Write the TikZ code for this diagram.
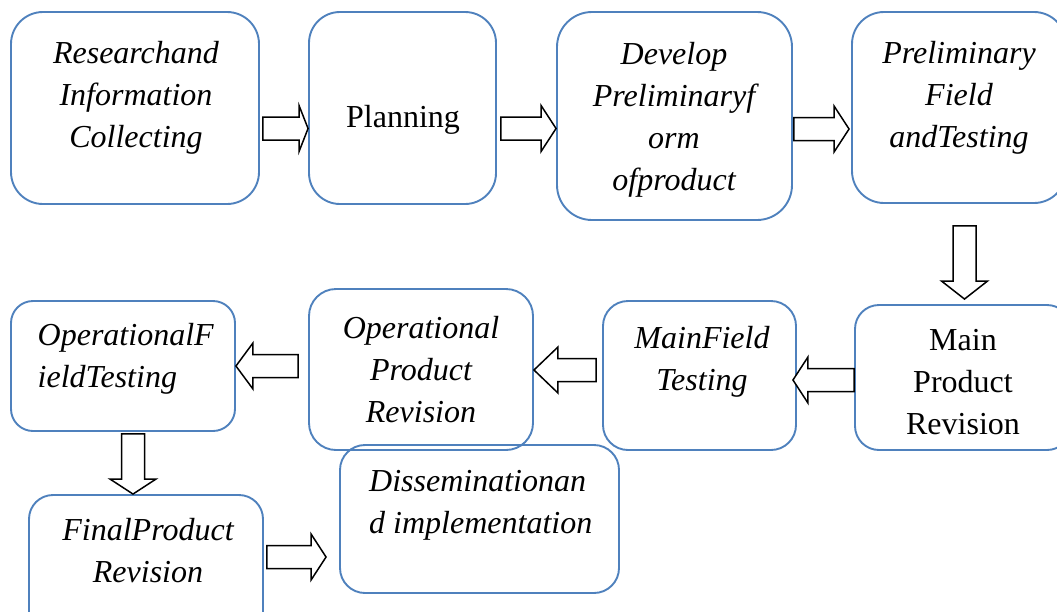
\documentclass[tikz,border=0pt]{standalone}
\usepackage{fontspec}
\setmainfont{Liberation Serif}
\usetikzlibrary{calc}

\definecolor{boxblue}{RGB}{79,129,189}

% hollow block arrow from #2 (tail) to #3 (tip), #1 = head length
\newcommand{\flowarrow}[3][15pt]{%
  \coordinate (head) at ($(#3)!#1!(#2)$);
  \draw[flow] ($(#2)!11.5pt!90:(#3)$) -- ($(head)!11.5pt!-90:(#2)$)
    -- ($(head)!23pt!-90:(#2)$) -- (#3) -- ($(head)!23pt!90:(#2)$)
    -- ($(head)!11.5pt!90:(#2)$) -- ($(#2)!11.5pt!-90:(#3)$) -- cycle;}

\begin{document}
\begin{tikzpicture}[x=1pt, y=1pt,
  stage/.style n args={3}{draw=boxblue, line width=1.9pt, rounded corners=#3pt,
    minimum width=#1pt, minimum height=#2pt, inner sep=0pt},
  steptext/.style={font=\fontsize{32}{42}\selectfont\itshape,
    align=center, inner sep=0pt, anchor=base},
  upright/.style={font=\fontsize{32}{42}\selectfont},
  flow/.style={draw=black, line width=1.5pt, fill=white, line join=miter}]
  \useasboundingbox (0,0) rectangle (1057,-611);

  % top row (texts sit on the baseline of their last line)
  \node[stage={248}{192}{32}] (b1) at (135,-108) {};
  \node[steptext] (t1) at (136,-147) {Researchand\\Information\\Collecting};
  \node[stage={187}{192}{31}] (b2) at (402.5,-108) {};
  \node[steptext, upright] (t2) at (403,-127) {Planning};
  \node[stage={235}{208}{35}] (b3) at (674.5,-116) {};
  \node[steptext] (t3) at (674,-190) {Develop\\Preliminaryf\\orm\\ofproduct};
  \node[stage={214}{191}{32}] (b4) at (959,-107.5) {};
  \node[steptext] (t4) at (959,-147) {Preliminary\\Field\\andTesting};

  % middle row, right to left
  \node[stage={216}{145}{24}] (b5) at (963,-377.5) {};
  \node[steptext, upright] (t5) at (963,-434) {Main\\Product\\Revision};
  \node[stage={193}{149}{25}] (b6) at (699.5,-375.5) {};
  \node[steptext] (t6) at (702,-390) {MainField\\Testing};
  \node[stage={224}{161}{27}] (b7) at (421,-369.5) {};
  \node[steptext] (t7) at (421,-422) {Operational\\Product\\Revision};
  \node[stage={224}{130}{22}] (b8) at (123,-366) {};
  \node[steptext, align=left, anchor=base west] (t8) at (37.5,-387) {OperationalF\\ieldTesting};

  % bottom row
  \node[stage={234}{145}{24}] (b9) at (146,-567.5) {};
  \node[steptext] (t9) at (148,-582) {FinalProduct\\Revision};
  \node[stage={279}{148}{25}] (b10) at (479.5,-519) {};
  \node[steptext, align=left, anchor=base west] (t10) at (369,-533) {Disseminationan\\d implementation};

  % arrows
  \flowarrow[9pt]{[xshift=3pt,yshift=-20.5pt]b1.east}{[yshift=-20.5pt]b2.west}
  \flowarrow{[xshift=4pt,yshift=-20.5pt]b2.east}{[yshift=-12.5pt]b3.west}
  \flowarrow{[xshift=1pt,yshift=-13pt]b3.east}{[xshift=-2pt,yshift=-21.5pt]b4.west}
  \flowarrow[18pt]{[xshift=5.5pt,yshift=-22pt]b4.south}{[xshift=1.5pt,yshift=5pt]b5.north}
  \flowarrow{[yshift=-2.5pt]b5.west}{[xshift=-4pt,yshift=-4.5pt]b6.east}
  \flowarrow[24pt]{[xshift=-6pt,yshift=5.5pt]b6.west}{[yshift=-0.5pt]b7.east}
  \flowarrow[17pt]{[xshift=-10pt,yshift=3.5pt]b7.west}{b8.east}
  \flowarrow{[xshift=10pt,yshift=-2pt]b8.south}{[xshift=-13pt]b9.north}
  \flowarrow{[xshift=3pt,yshift=10.5pt]b9.east}{[xshift=-13pt,yshift=-38pt]b10.west}
\end{tikzpicture}
\end{document}
